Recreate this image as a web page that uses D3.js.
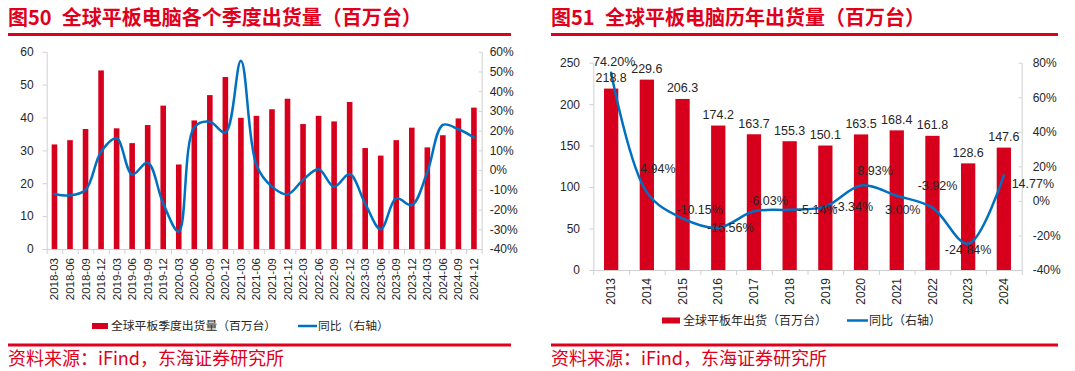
<!DOCTYPE html>
<html>
<head>
<meta charset="utf-8">
<script src="https://cdn.jsdelivr.net/npm/d3@7"></script>
<style>
  html, body { margin: 0; padding: 0; background: #fff; }
  svg { display: block; }
  .num { font-family: "Liberation Sans", Arial, sans-serif; fill: #262626; }
  .cjk { font-family: "Noto Sans CJK SC", "Noto Sans", sans-serif; }
</style>
</head>
<body>
<svg id="chart" width="1075" height="371"></svg>
<script>
// ---------------- Data ----------------
const quarters = ["2018-03","2018-06","2018-09","2018-12","2019-03","2019-06","2019-09","2019-12",
  "2020-03","2020-06","2020-09","2020-12","2021-03","2021-06","2021-09","2021-12",
  "2022-03","2022-06","2022-09","2022-12","2023-03","2023-06","2023-09","2023-12",
  "2024-03","2024-06","2024-09","2024-12"];
const quarterlyShipments = [31.8,33.1,36.5,54.3,36.7,32.2,37.7,43.6,25.7,39.1,46.8,52.3,39.9,40.5,42.5,45.7,
  38.0,40.5,38.8,44.7,30.7,28.4,33.1,36.9,30.9,34.6,39.7,43.0];
const quarterlyYoY = [-12.1,-12.8,-10.1,9.3,16.1,-2.3,3.8,-17.0,-31.2,21.7,24.5,19.0,55.4,2.6,-8.4,-12.3,
  -5.0,0.4,-8.4,-2.0,-17.0,-30.0,-14.3,-17.7,-1.0,22.9,20.7,16.6];
const leftTicks = [0,10,20,30,40,50,60];
const leftPctTicks = [-40,-30,-20,-10,0,10,20,30,40,50,60];

const years = ["2013","2014","2015","2016","2017","2018","2019","2020","2021","2022","2023","2024"];
const annualShipments = [218.8,229.6,206.3,174.2,163.7,155.3,150.1,163.5,168.4,161.8,128.6,147.6];
const annualYoY = [74.20,4.94,-10.15,-15.56,-6.03,-5.14,-3.34,8.93,3.00,-3.92,-24.84,14.77];
const rightTicks = [0,50,100,150,200,250];
const rightPctTicks = [-40,-20,0,20,40,60,80];

// label placement offsets (style, not data): [dx, dy] of label centre from point
const yoyLabelOffsets = [[3,-11],[11,-24],[17,-9],[12,0],[14,-11],[28,0],[28,0],[14,-15],[6,14],[5,-22],[0,6],[29,8]];

// ---------------- Style ----------------
const RED = "#E0001B", BAR = "#D7001C", BLUE = "#0070C0", AXIS = "#D0D0D0", TXT = "#262626";

const svg = d3.select("#chart");
svg.append("rect").attr("width",1075).attr("height",371).attr("fill","#fff");

function frame(x0, x1, titleNum, titleText, titleTextX) {
  const t = svg.append("text").attr("class","cjk").attr("y",24.5)
    .attr("fill",RED).attr("font-size",20).attr("font-weight","bold");
  t.append("tspan").attr("x",x0).text(titleNum);
  t.append("tspan").attr("x",titleTextX).text(titleText);
  svg.append("line").attr("x1",x0).attr("x2",x1).attr("y1",34.5).attr("y2",34.5)
    .attr("stroke",RED).attr("stroke-width",2.8);
  svg.append("line").attr("x1",x0).attr("x2",x1).attr("y1",345).attr("y2",345)
    .attr("stroke",RED).attr("stroke-width",2.8);
  svg.append("text").attr("class","cjk").attr("x",x0).attr("y",365)
    .attr("fill",RED).attr("font-size",18).text("资料来源：iFind，东海证券研究所");
}

function styleAxis(g) {
  g.selectAll(".domain").attr("stroke",AXIS);
  g.selectAll(".tick line").attr("stroke",AXIS);
  g.selectAll("text").attr("fill",TXT).attr("font-family","'Liberation Sans', Arial, sans-serif");
}

function drawChart(o) {
  const n = o.cats.length;
  const x = d3.scaleBand().domain(o.cats).range([o.left,o.right]).paddingInner(0).paddingOuter(0);
  const xb = d3.scaleLinear().domain([0,n]).range([o.left,o.right]);
  const yL = d3.scaleLinear().domain(o.yDomain).range([o.bottom,o.top]);
  const yR = d3.scaleLinear().domain(o.pDomain).range([o.bottom,o.top]);
  const g = svg.append("g");

  // bars
  const bw = x.bandwidth()*o.barFrac;
  g.selectAll("rect.bar").data(o.bars).join("rect").attr("class","bar")
    .attr("x",(d,i)=>x(o.cats[i])+x.bandwidth()/2-bw/2)
    .attr("y",d=>yL(d)).attr("width",bw).attr("height",d=>yL(0)-yL(d))
    .attr("fill",BAR);

  // axes
  const ax = g.append("g").attr("transform",`translate(0,${o.bottom})`)
    .call(d3.axisBottom(xb).tickValues(d3.range(n+1)).tickFormat("").tickSize(5).tickSizeOuter(0));
  styleAxis(ax);
  const al = g.append("g").attr("transform",`translate(${o.left},0)`)
    .call(d3.axisLeft(yL).tickValues(o.yTicks).tickSize(4).tickSizeOuter(0).tickPadding(o.lPad));
  styleAxis(al); al.selectAll("text").attr("font-size",12);
  const ar = g.append("g").attr("transform",`translate(${o.right},0)`)
    .call(d3.axisRight(yR).tickValues(o.pTicks).tickSize(-3).tickSizeOuter(0).tickPadding(o.rPad)
      .tickFormat(d=>d+"%"));
  styleAxis(ar); ar.selectAll("text").attr("font-size",12);

  // category labels
  g.selectAll("text.cat").data(o.cats).join("text").attr("class","num cat")
    .attr("transform",d=>`translate(${x(d)+x.bandwidth()/2},${o.bottom+o.catGap}) rotate(-90)`)
    .attr("text-anchor","end").attr("dy","0.35em").attr("font-size",o.catFont).text(d=>d);

  // yoy line
  const line = d3.line().x((d,i)=>x(o.cats[i])+x.bandwidth()/2).y(d=>yR(d)).curve(d3.curveCatmullRom.alpha(0.5));
  g.append("path").datum(o.yoy).attr("d",line).attr("fill","none")
    .attr("stroke",BLUE).attr("stroke-width",2.5).attr("stroke-linecap","round");

  // labels
  if (o.barLabels) {
    g.selectAll("text.bl").data(o.bars).join("text").attr("class","num bl")
      .attr("x",(d,i)=>x(o.cats[i])+x.bandwidth()/2).attr("y",d=>yL(d)-11)
      .attr("dy","0.35em").attr("text-anchor","middle").attr("font-size",12.5).text(d=>d.toFixed(1));
    g.selectAll("text.pl").data(o.yoy).join("text").attr("class","num pl")
      .attr("x",(d,i)=>x(o.cats[i])+x.bandwidth()/2+yoyLabelOffsets[i][0])
      .attr("y",(d,i)=>yR(d)+yoyLabelOffsets[i][1])
      .attr("dy","0.35em").attr("text-anchor","middle").attr("font-size",12.5).text(d=>d.toFixed(2)+"%");
  }

  // legend
  const lg = g.append("g");
  lg.append("rect").attr("x",o.leg.rx).attr("y",o.leg.y-3).attr("width",o.leg.rw).attr("height",6).attr("fill",BAR);
  lg.append("text").attr("class","cjk").attr("x",o.leg.rx+o.leg.rw+3).attr("y",o.leg.y).attr("dy","0.36em")
    .attr("font-size",o.leg.fs).attr("fill",TXT).text(o.leg.t1);
  lg.append("line").attr("x1",o.leg.lx).attr("x2",o.leg.lx+o.leg.lw).attr("y1",o.leg.y).attr("y2",o.leg.y)
    .attr("stroke",BLUE).attr("stroke-width",2.5);
  lg.append("text").attr("class","cjk").attr("x",o.leg.lx+o.leg.lw+1).attr("y",o.leg.y).attr("dy","0.36em")
    .attr("font-size",o.leg.fs).attr("fill",TXT).text(o.leg.t2);
}

frame(8, 511, "图50", "全球平板电脑各个季度出货量（百万台）", 61.7);
frame(551, 1058, "图51", "全球平板电脑历年出货量（百万台）", 605);

drawChart({cats:quarters, bars:quarterlyShipments, yoy:quarterlyYoY,
  left:46.7, right:481.7, top:51.7, bottom:249, yDomain:[0,60], pDomain:[-40,60],
  yTicks:leftTicks, pTicks:leftPctTicks, barFrac:0.36, lPad:9, rPad:8, catGap:9, catFont:11.5,
  barLabels:false,
  leg:{rx:92, rw:16, lx:298, lw:19, y:326, fs:11.8, t1:"全球平板季度出货量（百万台）", t2:"同比（右轴）"}});

drawChart({cats:years, bars:annualShipments, yoy:annualYoY,
  left:593.3, right:1021.7, top:62.7, bottom:270, yDomain:[0,250], pDomain:[-40,80],
  yTicks:rightTicks, pTicks:rightPctTicks, barFrac:0.4, lPad:9.3, rPad:11, catGap:8, catFont:12,
  barLabels:true,
  leg:{rx:662, rw:18, lx:847, lw:21, y:320.5, fs:12, t1:"全球平板年出货（百万台）", t2:"同比（右轴）"}});
</script>
</body>
</html>
